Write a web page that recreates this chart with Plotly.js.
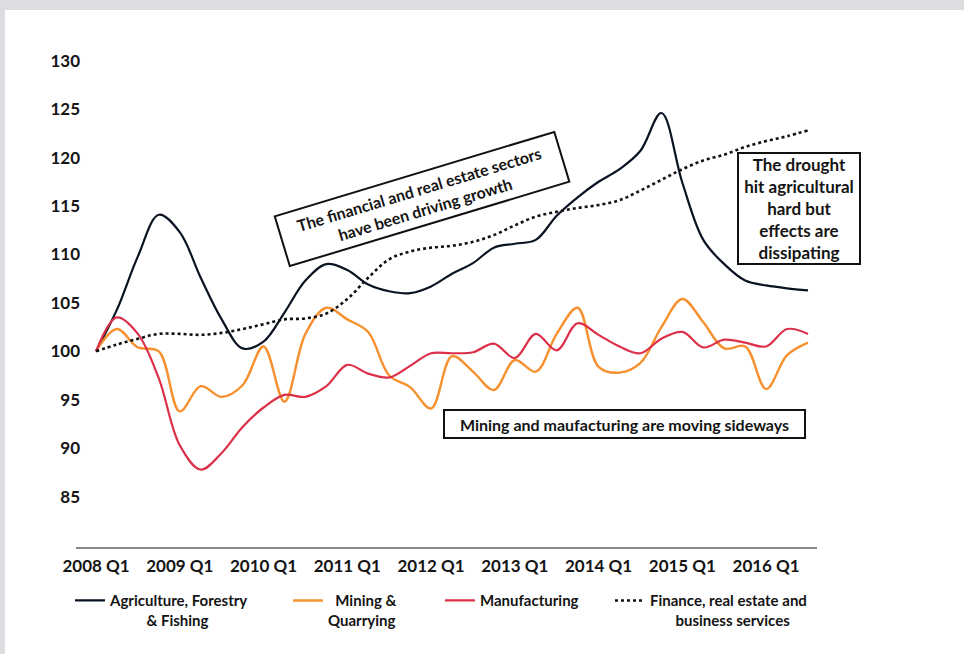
<!DOCTYPE html>
<html>
<head>
<meta charset="utf-8">
<script src="https://cdn.plot.ly/plotly-3.0.1.min.js"></script>
<style>
html,body{margin:0;padding:0;background:#dcdde0;width:964px;height:654px;overflow:hidden;}
#chart{position:absolute;left:5px;top:10px;width:959px;height:644px;background:#ffffff;}
</style>
</head>
<body>
<div id="chart"></div>
<script>
const quarters = [
  "2008 Q1","2008 Q2","2008 Q3","2008 Q4",
  "2009 Q1","2009 Q2","2009 Q3","2009 Q4",
  "2010 Q1","2010 Q2","2010 Q3","2010 Q4",
  "2011 Q1","2011 Q2","2011 Q3","2011 Q4",
  "2012 Q1","2012 Q2","2012 Q3","2012 Q4",
  "2013 Q1","2013 Q2","2013 Q3","2013 Q4",
  "2014 Q1","2014 Q2","2014 Q3","2014 Q4",
  "2015 Q1","2015 Q2","2015 Q3","2015 Q4",
  "2016 Q1","2016 Q2","2016 Q3"
];
const tickLabels = ["2008 Q1","2009 Q1","2010 Q1","2011 Q1","2012 Q1","2013 Q1","2014 Q1","2015 Q1","2016 Q1"];
const yTicks = [85,90,95,100,105,110,115,120,125,130];

const agriculture = [100,104.3,109.8,114.1,112.3,107.6,103.3,100.3,101.0,104.0,107.3,109.0,108.4,106.9,106.2,106.0,106.7,108.0,109.1,110.7,111.1,111.5,114.0,115.9,117.5,118.8,120.7,124.6,117.4,111.5,109.0,107.3,106.8,106.5,106.3];
const mining = [100,102.3,100.4,100.0,93.8,96.4,95.3,96.5,100.5,94.8,101.8,104.5,103.3,102.0,97.5,96.3,94.1,99.5,97.9,96.0,99.1,97.9,101.8,104.5,98.4,97.8,98.8,102.5,105.4,103.0,100.3,100.5,96.1,99.6,100.9];
const manufacturing = [100,103.5,101.8,97.2,90.3,87.8,89.5,92.2,94.2,95.5,95.3,96.4,98.6,97.7,97.3,98.5,99.8,99.8,99.9,100.8,99.3,101.8,100.1,102.9,101.7,100.5,99.8,101.3,102.0,100.4,101.2,100.9,100.5,102.3,101.8];
const finance = [100,100.7,101.3,101.8,101.8,101.7,101.9,102.3,102.8,103.3,103.4,103.9,105.4,107.6,109.5,110.3,110.7,110.9,111.3,112.0,113.0,113.9,114.4,114.8,115.1,115.6,116.6,117.7,118.8,119.7,120.3,121.1,121.7,122.2,122.8];

const seriesNames = [
  "Agriculture, Forestry<br>" + "\u00a0".repeat(10) + "& Fishing",
  "\u00a0\u00a0Mining &<br>Quarrying",
  "Manufacturing",
  "Finance, real estate and<br>" + "\u00a0".repeat(7) + "business services"
];

const FONT = 'Lato, "Open Sans", "DejaVu Sans", sans-serif';
const INK = '#141414';

function trace(y, name, color, width, dash, legendId) {
  return {
    x: quarters, y: y, name: name, type: 'scatter', mode: 'lines',
    line: {color: color, width: width, dash: dash, shape: 'spline', smoothing: 1},
    legend: legendId, hoverinfo: 'skip'
  };
}

const data = [
  trace(agriculture, seriesNames[0], '#0a1322', 2.2, 'solid', 'legend'),
  trace(mining, seriesNames[1], '#f7902f', 2.4, 'solid', 'legend2'),
  trace(manufacturing, seriesNames[2], '#dc3049', 2.2, 'solid', 'legend3'),
  trace(finance, seriesNames[3], '#111111', 2.6, 'dot', 'legend4')
];

function legendAt(x) {
  return {x: x, xanchor: 'left', y: -0.075, yanchor: 'top', orientation: 'v',
    bgcolor: 'rgba(0,0,0,0)', borderwidth: 0, valign: 'top',
    font: {family: FONT, size: 15, color: INK, weight: 'bold'}};
}

const annFont = (s) => ({family: FONT, size: s, color: INK, weight: 'bold'});

const layout = {
  width: 959, height: 644,
  paper_bgcolor: '#ffffff', plot_bgcolor: '#ffffff',
  margin: {l: 71, r: 147, t: 41, b: 107, pad: 0},
  font: {family: FONT, color: INK},
  showlegend: true,
  xaxis: {
    type: 'category', range: [-0.955, 34.43],
    tickmode: 'array', tickvals: tickLabels, ticktext: tickLabels,
    showgrid: false, zeroline: false, showline: true, linecolor: '#8a8a8a', linewidth: 2,
    ticks: '', ticklabelstandoff: 3,
    tickfont: {family: FONT, size: 17, color: INK, weight: 'bold'}
  },
  yaxis: {
    range: [79.8, 131], tickmode: 'array', tickvals: yTicks,
    showgrid: false, zeroline: false, showline: false, ticks: '',
    ticklabelstandoff: -5,
    tickfont: {family: FONT, size: 17, color: INK, weight: 'bold'}
  },
  legend: legendAt(-0.0081),
  legend2: legendAt(0.2861),
  legend3: legendAt(0.4912),
  legend4: legendAt(0.7206),
  annotations: [
    {x: 15.57, y: 115.74, xref: 'x', yref: 'y', showarrow: false,
     text: 'The financial and real estate sectors<br>have been driving growth',
     textangle: -16.8, align: 'center', font: annFont(16),
     bordercolor: '#111', borderwidth: 2, borderpad: 1, width: 288, height: 48,
     xanchor: 'center', yanchor: 'middle'},
    {x: 33.57, y: 114.7, xref: 'x', yref: 'y', showarrow: false,
     text: 'The drought<br>hit agricultural<br>hard but<br>effects are<br>dissipating',
     align: 'center', font: annFont(17),
     bordercolor: '#111', borderwidth: 2, borderpad: 1, width: 118, height: 107,
     xanchor: 'center', yanchor: 'middle'},
    {x: 25.24, y: 92.47, xref: 'x', yref: 'y', showarrow: false,
     text: 'Mining and maufacturing are moving sideways',
     align: 'center', font: annFont(16),
     bordercolor: '#111', borderwidth: 2, borderpad: 1, width: 357, height: 24,
     xanchor: 'center', yanchor: 'middle'}
  ]
};

Plotly.newPlot('chart', data, layout, {displayModeBar: false, staticPlot: true});
</script>
</body>
</html>
